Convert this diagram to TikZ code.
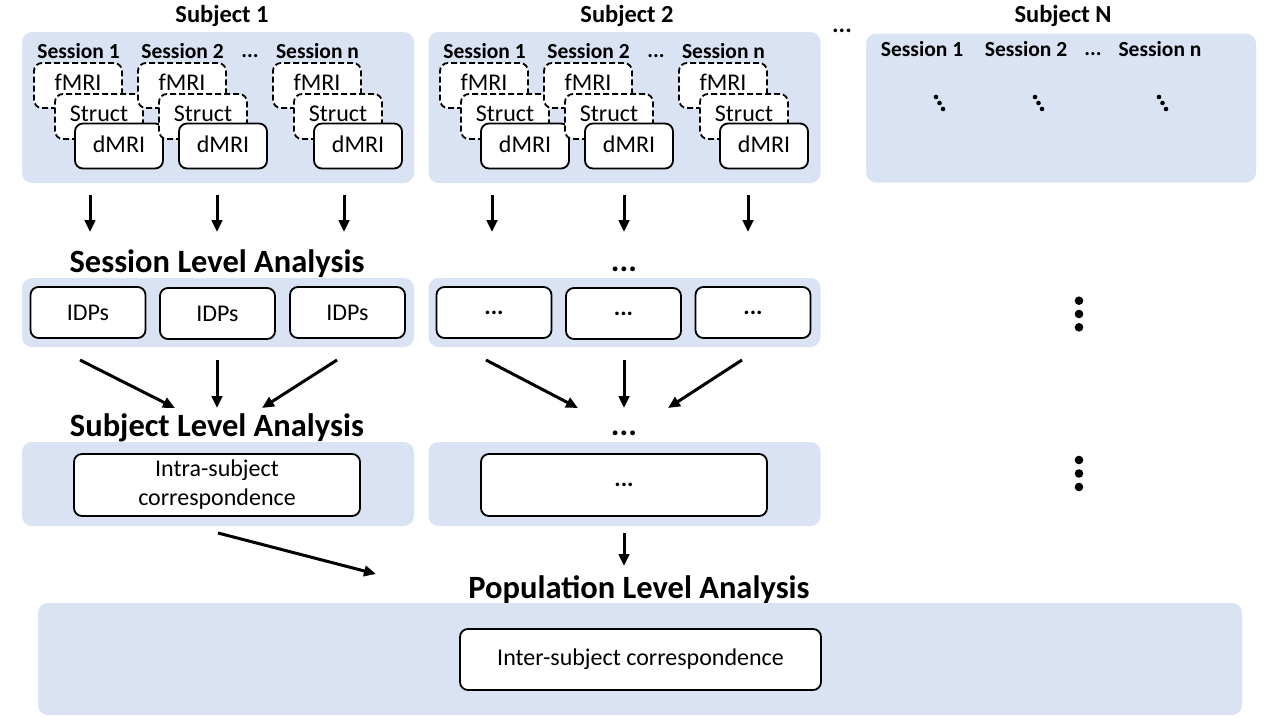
\documentclass[tikz,border=0pt]{standalone}
\usepackage{fontspec}
\setmainfont{Carlito}
\usetikzlibrary{arrows.meta}
\definecolor{panelblue}{HTML}{DAE3F3}
\tikzstyle{panel}=[fill=panelblue, rounded corners=10pt, inner sep=0pt]
\tikzstyle{box}=[draw, line width=1.8pt, rounded corners=8pt, fill=white, inner sep=0pt,
  font=\fontsize{24}{29}\selectfont, align=center]
\tikzstyle{modbox}=[box, minimum width=88pt, minimum height=45pt, text depth=3pt]
\tikzstyle{dashbox}=[modbox, dash pattern=on 6pt off 3pt, text depth=6pt]
\tikzstyle{head}=[inner sep=0pt, font=\bfseries\fontsize{24.5}{28}\selectfont]
\tikzstyle{sesslbl}=[inner sep=0pt, font=\bfseries\fontsize{21.5}{24}\selectfont]
\tikzstyle{level}=[inner sep=0pt, font=\bfseries\fontsize{32.5}{36}\selectfont]
\tikzstyle{arr}=[line width=3pt, -{Triangle[length=12pt,width=10.5pt]}]
\newcommand{\panel}{\node[panel]}
% one session: label, then the three scans stacked
\newcommand{\sess}[3]{%
  \node[sesslbl] (#1l) at (#2+44.5,51) {#3};
  \node[dashbox] (#1f) at (#2+44,85.5) {fMRI};
  \node[dashbox] (#1s) at (#2+65,116.5) {Struct};
  \node[modbox] (#1d) at (#2+85,146) {dMRI};
}
\newcommand{\slant}[2]{\fill (#1,#2) circle (2.3pt) (#1+3.5,#2+6) circle (2.3pt) (#1+7,#2+12) circle (2.3pt);}

\begin{document}
\begin{tikzpicture}[x=1pt, y=-1pt]
\useasboundingbox (0,0) rectangle (1280,720);

% subjects
\node[head] (h1) at (222,16) {Subject 1};
\node[head] (h2) at (627,16) {Subject 2};
\node[head] (hd) at (842,31) {...};
\node[head] (hn) at (1063,16) {Subject N};
\panel[minimum width=392pt, minimum height=151pt] (p1) at (218,107.5) {};
\panel[minimum width=392pt, minimum height=151pt] (p2) at (624.5,107.5) {};
\panel[minimum width=390pt, minimum height=149pt] (pn) at (1061,108) {};

\sess{a}{34}{Session 1}
\sess{b}{138}{Session 2}
\node[sesslbl] (abd) at (250,56) {...};
\sess{c}{273}{Session n}
\sess{d}{440}{Session 1}
\sess{e}{544}{Session 2}
\node[sesslbl] (ded) at (656,56) {...};
\sess{f}{679}{Session n}

\node[sesslbl] (n1) at (922,49) {Session 1};
\node[sesslbl] (n2) at (1026,49) {Session 2};
\node[sesslbl] (nd) at (1093,54) {...};
\node[sesslbl] (nn) at (1160,49) {Session n};
\slant{936}{97}
\slant{1035}{97}
\slant{1159}{97}

% session level
\coordinate (u1) at (90,195);  \coordinate (v1) at (90,232);
\coordinate (u2) at (217,195); \coordinate (v2) at (217,232);
\coordinate (u3) at (344,195); \coordinate (v3) at (344,232);
\coordinate (u4) at (492,195); \coordinate (v4) at (492,232);
\coordinate (u5) at (624,195); \coordinate (v5) at (624,232);
\coordinate (u6) at (748,195); \coordinate (v6) at (748,232);
\draw[arr] (u1) -- (v1);
\draw[arr] (u2) -- (v2);
\draw[arr] (u3) -- (v3);
\draw[arr] (u4) -- (v4);
\draw[arr] (u5) -- (v5);
\draw[arr] (u6) -- (v6);

\node[level] (sl) at (217,264) {Session Level Analysis};
\node[level] (sld) at (624,269) {...};
\panel[minimum width=392pt, minimum height=69pt] (q1) at (218,312.5) {};
\panel[minimum width=392pt, minimum height=69pt] (q2) at (624.5,312.5) {};
\node[box, minimum width=115pt, minimum height=51pt] (i1) at (88,312.5) {IDPs};
\node[box, minimum width=115pt, minimum height=51pt] (i2) at (217.5,313.5) {IDPs};
\node[box, minimum width=115pt, minimum height=51pt] (i3) at (347.5,312.5) {IDPs};
\node[box, minimum width=115pt, minimum height=51pt] (i4) at (494,312.5) {\bfseries ...};
\node[box, minimum width=115pt, minimum height=51pt] (i5) at (623.5,313.5) {\bfseries ...};
\node[box, minimum width=115pt, minimum height=51pt] (i6) at (753,312.5) {\bfseries ...};
\fill (1079,300.7) circle (4.3pt) (1079,314) circle (4.3pt) (1079,327.3) circle (4.3pt);

% subject level
\coordinate (w1) at (80,360);  \coordinate (z1) at (175,408);
\coordinate (w2) at (217,360); \coordinate (z2) at (217,408);
\coordinate (w3) at (337,360); \coordinate (z3) at (262,408);
\coordinate (w4) at (486,360); \coordinate (z4) at (578,408);
\coordinate (w5) at (624,360); \coordinate (z5) at (624,408);
\coordinate (w6) at (742,360); \coordinate (z6) at (668,408);
\draw[arr] (w1) -- (z1);
\draw[arr] (w2) -- (z2);
\draw[arr] (w3) -- (z3);
\draw[arr] (w4) -- (z4);
\draw[arr] (w5) -- (z5);
\draw[arr] (w6) -- (z6);

\node[level] (su) at (217,428) {Subject Level Analysis};
\node[level] (sud) at (624,433) {...};
\panel[minimum width=392pt, minimum height=84pt] (r1) at (218,484) {};
\panel[minimum width=392pt, minimum height=84pt] (r2) at (624.5,484) {};
\node[box, minimum width=286pt, minimum height=62pt] (c1) at (217,485) {Intra-subject\\correspondence};
\node[box, minimum width=286pt, minimum height=62pt] (c2) at (624,485) {\bfseries ...};
\fill (1079,460) circle (4.3pt) (1079,473.5) circle (4.3pt) (1079,487) circle (4.3pt);

% population level
\coordinate (x1) at (218,533); \coordinate (y1) at (376,574);
\coordinate (x2) at (624,533); \coordinate (y2) at (624,566);
\draw[arr] (x1) -- (y1);
\draw[arr] (x2) -- (y2);
\node[level] (po) at (639,590) {Population Level Analysis};
\panel[minimum width=1204pt, minimum height=112pt] (pp) at (640,659) {};
\node[box, minimum width=361pt, minimum height=61pt] (ic) at (640.5,659.5) {Inter-subject correspondence};
\end{tikzpicture}
\end{document}
